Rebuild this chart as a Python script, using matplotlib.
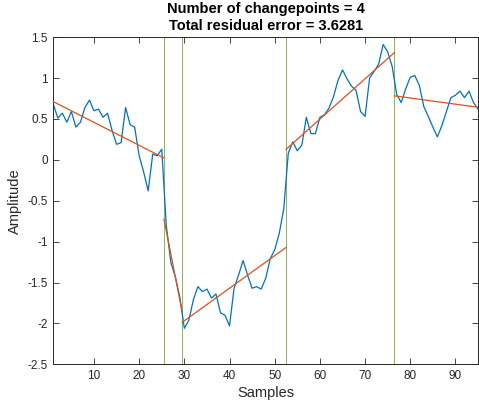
import numpy as np
import matplotlib
matplotlib.use("Agg")
import matplotlib.pyplot as plt
from matplotlib.ticker import FuncFormatter

plt.rcParams["font.family"] = ["Liberation Sans", "DejaVu Sans"]
plt.rcParams["axes.unicode_minus"] = False

# signal samples (index starts at 1)
signal = [
    0.68, 0.51, 0.57, 0.46, 0.59, 0.40, 0.46, 0.64, 0.73, 0.60,
    0.62, 0.52, 0.57, 0.36, 0.19, 0.21, 0.64, 0.43, 0.40, 0.05,
    -0.15, -0.38, 0.07, 0.05, 0.13, -0.80, -1.25, -1.43, -1.68, -2.06,
    -1.96, -1.71, -1.55, -1.61, -1.58, -1.69, -1.64, -1.87, -1.90, -2.03,
    -1.57, -1.41, -1.23, -1.41, -1.57, -1.55, -1.58, -1.45, -1.21, -1.10,
    -0.90, -0.60, 0.08, 0.22, 0.11, 0.18, 0.52, 0.32, 0.32, 0.52,
    0.55, 0.63, 0.77, 0.97, 1.10, 0.99, 0.90, 0.85, 0.59, 0.53,
    1.00, 1.08, 1.17, 1.41, 1.32, 1.14, 0.80, 0.70, 0.87, 1.01,
    1.03, 0.91, 0.65, 0.53, 0.40, 0.28, 0.42, 0.59, 0.76, 0.79,
    0.84, 0.76, 0.84, 0.70, 0.62,
]
# first sample of each new segment
changepoints = [26, 30, 53, 77]
residual_error = 3.6281

y = np.array(signal)
n = len(y)
x = np.arange(1, n + 1)

fig = plt.figure(figsize=(4.79, 4.08), dpi=100)
ax = fig.add_axes([0.1113, 0.107, 0.8867, 0.802])

ax.plot(x, y, color="#0072BD", lw=0.9, zorder=2)

# piecewise linear fit for each segment
bounds = [1] + changepoints + [n + 1]
for a, b in zip(bounds[:-1], bounds[1:]):
    xs = x[a - 1:b - 1]
    ys = y[a - 1:b - 1]
    k, c = np.polyfit(xs, ys, 1)
    xl = np.array([max(a - 0.5, 1), min(b - 0.5, n)])
    ax.plot(xl, k * xl + c, color="#D95319", lw=0.9, zorder=3)

for cp in changepoints:
    ax.axvline(cp - 0.5, color="#77AC30", lw=0.6, zorder=1)

ax.set_xlim(1, n)
ax.set_ylim(-2.5, 1.5)
ax.set_xticks(np.arange(10, 91, 10))
ax.set_yticks(np.arange(-2.5, 1.51, 0.5))
ax.yaxis.set_major_formatter(FuncFormatter(lambda v, p: "%g" % round(v, 2)))
ax.tick_params(direction="in", length=4, width=0.6, top=True, right=True,
               labelsize=8.5, colors="#262626", pad=4)
for s in ax.spines.values():
    s.set_linewidth(0.7)
    s.set_color("#262626")

ax.set_xlabel("Samples", fontsize=10.5, color="#262626", labelpad=3)
ax.set_ylabel("Amplitude", fontsize=10.5, color="#262626", labelpad=4)
ax.set_title("Number of changepoints = %d\nTotal residual error = %.4f"
             % (len(changepoints), residual_error),
             fontsize=10.5, fontweight="bold", color="#000000", pad=5,
             linespacing=1.3)

fig.savefig("out.png", dpi=100)
